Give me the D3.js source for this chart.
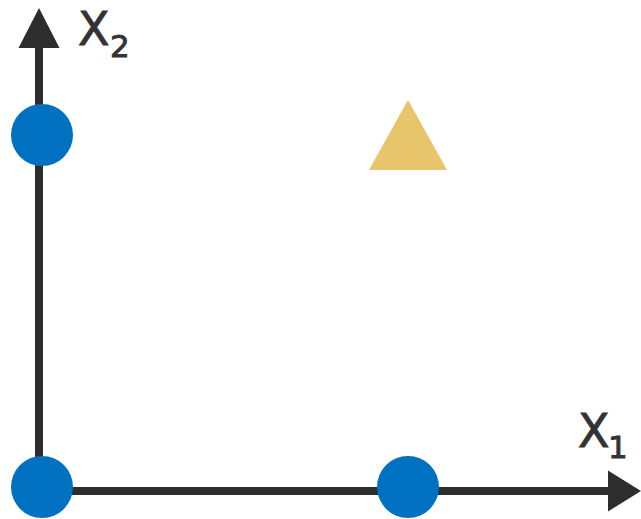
<!DOCTYPE html>
<html>
<head>
<meta charset="utf-8">
<script src="https://cdn.jsdelivr.net/npm/d3@7"></script>
<style>
  body { margin: 0; background: #fff; }
  text { font-family: "DejaVu Sans", sans-serif; fill: #333; stroke: #333; stroke-width: 0.9px; }
</style>
</head>
<body>
<svg width="641" height="519"></svg>
<script>
// inputs of the XOR-like problem
var x1Values = [0, 1, 0, 1];
var x2Values = [0, 0, 1, 1];
var classes = ['circle', 'circle', 'circle', 'triangle'];

var svg = d3.select('svg');

var xScale = d3.scaleLinear().domain([0, 1]).range([42, 408]);
var yScale = d3.scaleLinear().domain([0, 1]).range([487, 135]);

var axisColor = '#2d2d2d';
var axisX = 39, axisY = 491;

// vertical axis (x2)
svg.append('line')
    .attr('x1', axisX).attr('y1', axisY + 4)
    .attr('x2', axisX).attr('y2', 45)
    .attr('stroke', axisColor)
    .attr('stroke-width', 8);
svg.append('path')
    .attr('d', d3.line()([[axisX, 8], [axisX - 20.5, 48], [axisX + 20.5, 48]]) + 'Z')
    .attr('fill', axisColor);

// horizontal axis (x1)
svg.append('line')
    .attr('x1', axisX - 4).attr('y1', axisY)
    .attr('x2', 612).attr('y2', axisY)
    .attr('stroke', axisColor)
    .attr('stroke-width', 8);
svg.append('path')
    .attr('d', d3.line()([[641, axisY], [608, axisY - 20.5], [608, axisY + 20.5]]) + 'Z')
    .attr('fill', axisColor);

// axis labels
svg.append('text').text('X').attr('x', 78).attr('y', 45).style('font-size', '46px');
svg.append('text').text('2').attr('x', 110).attr('y', 57).style('font-size', '31px');
svg.append('text').text('X').attr('x', 578).attr('y', 447).style('font-size', '46px');
svg.append('text').text('1').attr('x', 608).attr('y', 458).style('font-size', '31px');

var points = x1Values.map(function(v, i){
    return {x1: v, x2: x2Values[i], cls: classes[i]};
});

points.forEach(function(p){
    var cx = xScale(p.x1), cy = yScale(p.x2);
    if (p.cls === 'circle') {
        svg.append('circle')
            .attr('cx', cx).attr('cy', cy)
            .attr('r', 31)
            .style('fill', '#0070c0');
    } else {
        svg.append('path')
            .attr('d', d3.line()([[cx, cy - 35], [cx - 39, cy + 35], [cx + 39, cy + 35]]) + 'Z')
            .style('fill', '#e8c46a');
    }
});
</script>
</body>
</html>
